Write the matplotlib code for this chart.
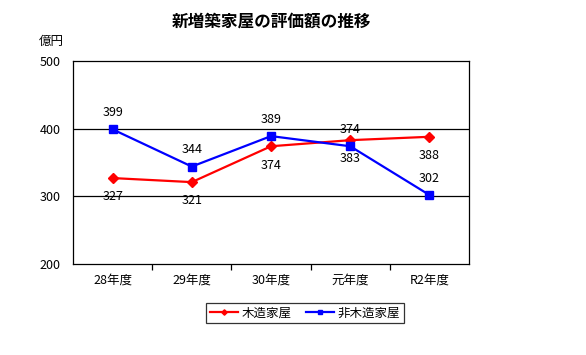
import matplotlib
matplotlib.use("Agg")
import matplotlib.pyplot as plt

plt.rcParams['font.family'] = ['Noto Sans CJK JP', 'DejaVu Sans']

categories = ["28年度", "29年度", "30年度", "元年度", "R2年度"]
wood = [327, 321, 374, 383, 388]
nonwood = [399, 344, 389, 374, 302]
yticks = [200, 300, 400, 500]

fig = plt.figure(figsize=(5.86, 3.55), dpi=100)
ax = fig.add_axes([73/586, 1-264/355, 396/586, 203/355])

x = list(range(len(categories)))
ax.plot(x, wood, color='#ff0000', lw=1.6, marker='D', ms=5.5, label='木造家屋', zorder=3)
ax.plot(x, nonwood, color='#0000ff', lw=1.6, marker='s', ms=5.5, label='非木造家屋', zorder=4)

for xi, v in zip(x, wood):
    ax.annotate(str(v), (xi, v), xytext=(0, -13.5), textcoords='offset points',
                ha='center', va='center', fontsize=9, color='black')
for xi, v in zip(x, nonwood):
    ax.annotate(str(v), (xi, v), xytext=(0, 12), textcoords='offset points',
                ha='center', va='center', fontsize=9, color='black')

ax.set_xlim(-0.5, len(categories) - 0.5)
ax.set_ylim(200, 500)
ax.set_yticks(yticks)
ax.set_yticklabels([str(t) for t in yticks], fontsize=9)
ax.tick_params(axis='y', length=0, pad=9)
for t in [300, 400]:
    ax.axhline(t, color='black', lw=0.9, zorder=1)

ax.set_xticks(x)
ax.set_xticklabels(categories, fontsize=9)
ax.tick_params(axis='x', which='major', length=0, pad=7)
ax.set_xticks([i + 0.5 for i in range(len(categories) - 1)], minor=True)
ax.tick_params(axis='x', which='minor', length=4, width=0.9, direction='out')
for s in ax.spines.values():
    s.set_linewidth(0.9)
    s.set_color('black')

fig.text(272/586, 1-22/355, '新増築家屋の評価額の推移', ha='center', va='center',
         fontsize=12, fontweight='bold')
fig.text(51/586, 1-41/355, '億円', ha='center', va='center', fontsize=9)

leg = fig.legend(loc='center', bbox_to_anchor=(305/586, 1-313/355), ncol=2,
                 fontsize=9, frameon=True, fancybox=False, edgecolor='black',
                 handlelength=2.2, handletextpad=0.3, columnspacing=1.2,
                 borderpad=0.3, markerscale=0.5)
leg.get_frame().set_linewidth(0.9)

fig.savefig('out.png', dpi=100)
